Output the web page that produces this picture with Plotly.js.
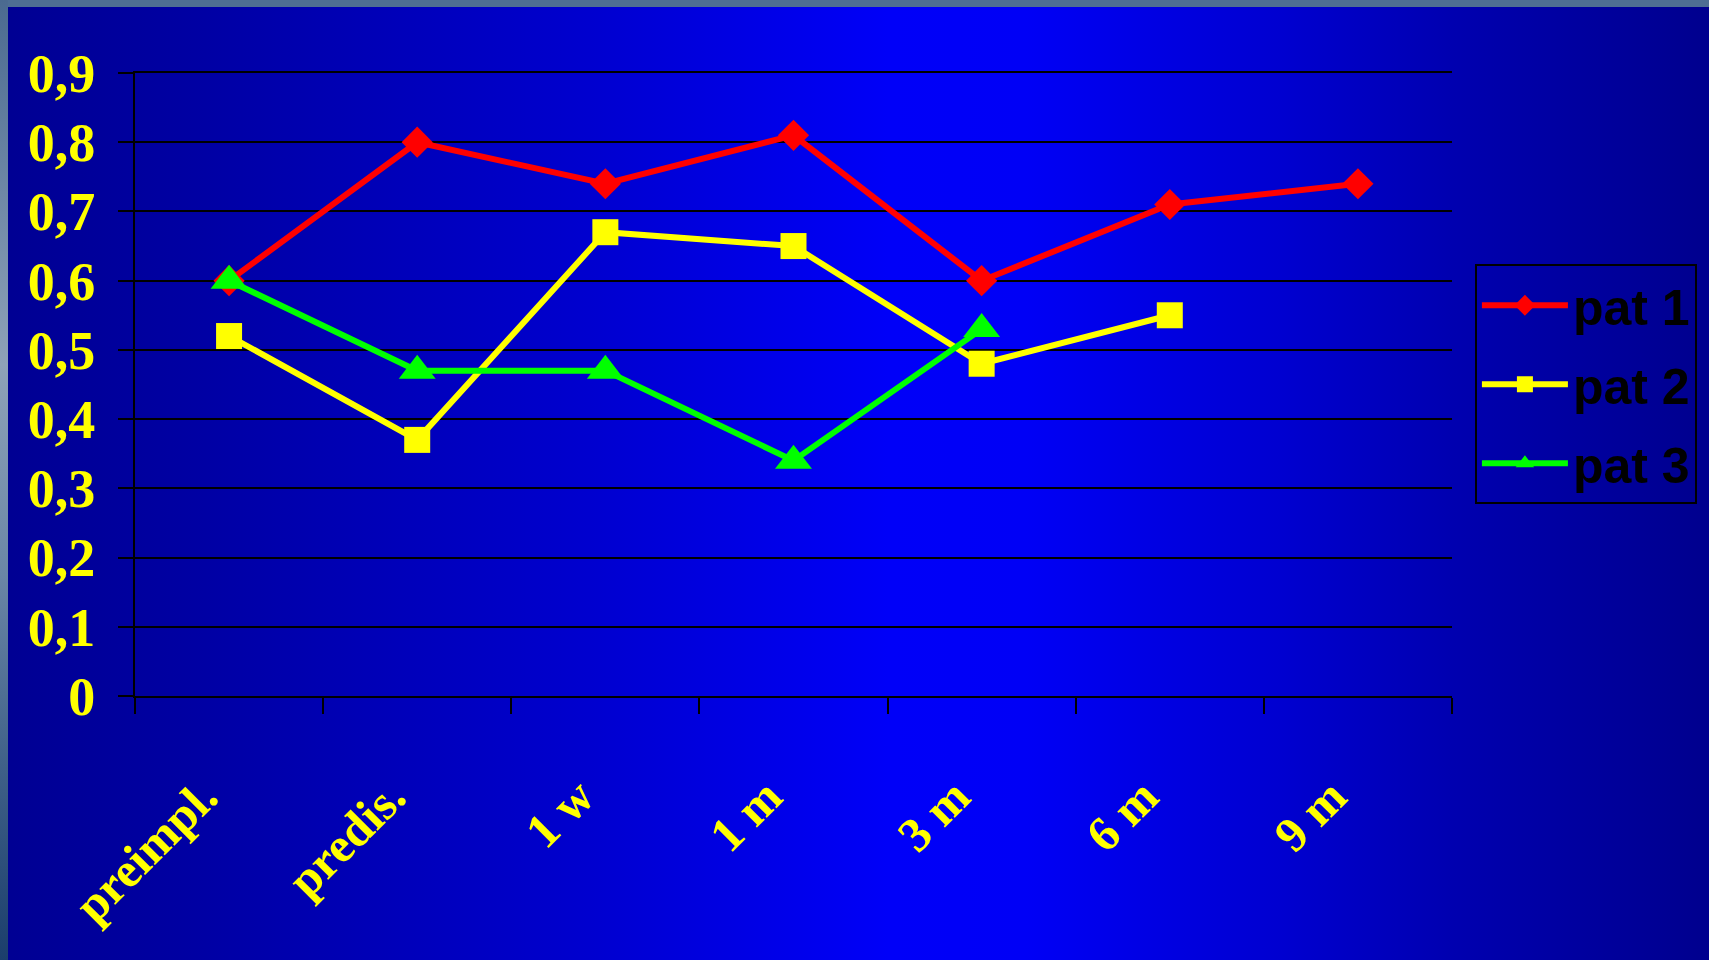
<!DOCTYPE html>
<html>
<head>
<meta charset="utf-8">
<script src="https://cdn.plot.ly/plotly-3.0.1.min.js"></script>
<style>
  html, body { margin: 0; padding: 0; }
  #wrap {
    position: relative; width: 1709px; height: 960px; overflow: hidden;
    background: linear-gradient(to right, #000092 0%, #0000a4 12%, #0000d0 35%, #0000f8 52%, #0000f6 60%, #0000d0 75%, #0000b0 85%, #00008e 100%);
  }
  #topbar { position: absolute; left: 0; top: 0; width: 1709px; height: 7px; background: #4e6e93; z-index: 2; }
  #leftbar { position: absolute; left: 0; top: 0; width: 8px; height: 960px; z-index: 2;
    background: linear-gradient(to bottom, #4b6a90 0%, #6e88a6 20%, #8ea2b8 38%, #6a86a6 60%, #3f6088 80%, #1b3e6c 100%); }
  #chart { position: absolute; left: 0; top: 0; width: 1709px; height: 960px; z-index: 1; }
</style>
</head>
<body>
<div id="wrap">
  <div id="topbar"></div>
  <div id="leftbar"></div>
  <div id="chart"></div>
</div>
<script>
const categories = ["preimpl.", "predis.", "1 w", "1 m", "3 m", "6 m", "9 m"];
const pat1 = [0.60, 0.80, 0.74, 0.81, 0.60, 0.71, 0.74];
const pat2 = [0.52, 0.37, 0.67, 0.65, 0.48, 0.55, null];
const pat3 = [0.60, 0.47, 0.47, 0.34, 0.53, null, null];
const seriesNames = ["pat 1", "pat 2", "pat 3"];

const traces = [
  {x: categories, y: pat1, name: seriesNames[0], legendgroup: "g1", type: "scatter", mode: "lines+markers",
   line: {color: "#ff0000", width: 6}, marker: {symbol: "diamond", size: 24, color: "#ff0000"}},
  {x: categories, y: pat2, name: seriesNames[1], legendgroup: "g2", type: "scatter", mode: "lines+markers",
   line: {color: "#ffff00", width: 6}, marker: {symbol: "square", size: 26, color: "#ffff00"}},
  {x: categories, y: pat3, name: seriesNames[2], legendgroup: "g3", type: "scatter", mode: "lines+markers",
   line: {color: "#00ff00", width: 6}, marker: {symbol: "triangle-up", size: 32, color: "#00ff00"}}
];

const layout = {
  width: 1709, height: 960,
  paper_bgcolor: "rgba(0,0,0,0)", plot_bgcolor: "rgba(0,0,0,0)",
  separators: ",.",
  margin: {l: 135, r: 255, t: 73, b: 264, pad: 0},
  showlegend: true,
  legend: {
    x: 1.0174, xanchor: "left", y: 0.693, yanchor: "top",
    bgcolor: "rgba(0,0,0,0)", bordercolor: "#000000", borderwidth: 2,
    font: {family: "Liberation Sans, Arial, sans-serif", size: 50, color: "#000000", weight: "bold"},
    tracegroupgap: 11, itemwidth: 86
  },
  xaxis: {
    type: "category", categoryorder: "array", categoryarray: categories,
    range: [-0.5, 6.5], tickson: "boundaries",
    showgrid: false, zeroline: false,
    showline: true, mirror: true, linecolor: "#000000", linewidth: 2,
    ticks: "outside", ticklen: 16, tickwidth: 2, tickcolor: "#000000",
    tickangle: -45, ticklabelstandoff: 50, ticklabelshift: -26,
    tickfont: {family: "Liberation Serif, Times New Roman, serif", size: 49, color: "#ffff00", weight: "bold"}
  },
  yaxis: {
    range: [0, 0.9], dtick: 0.1, tick0: 0,
    showgrid: true, gridcolor: "#000000", gridwidth: 2,
    zeroline: false, showline: true, linecolor: "#000000", linewidth: 2,
    ticks: "outside", ticklen: 15, tickwidth: 2, tickcolor: "#000000",
    ticklabelstandoff: 12,
    tickfont: {family: "Liberation Serif, Times New Roman, serif", size: 54, color: "#ffff00", weight: "bold"}
  }
};

Plotly.newPlot("chart", traces, layout, {displayModeBar: false, staticPlot: true});
</script>
</body>
</html>
